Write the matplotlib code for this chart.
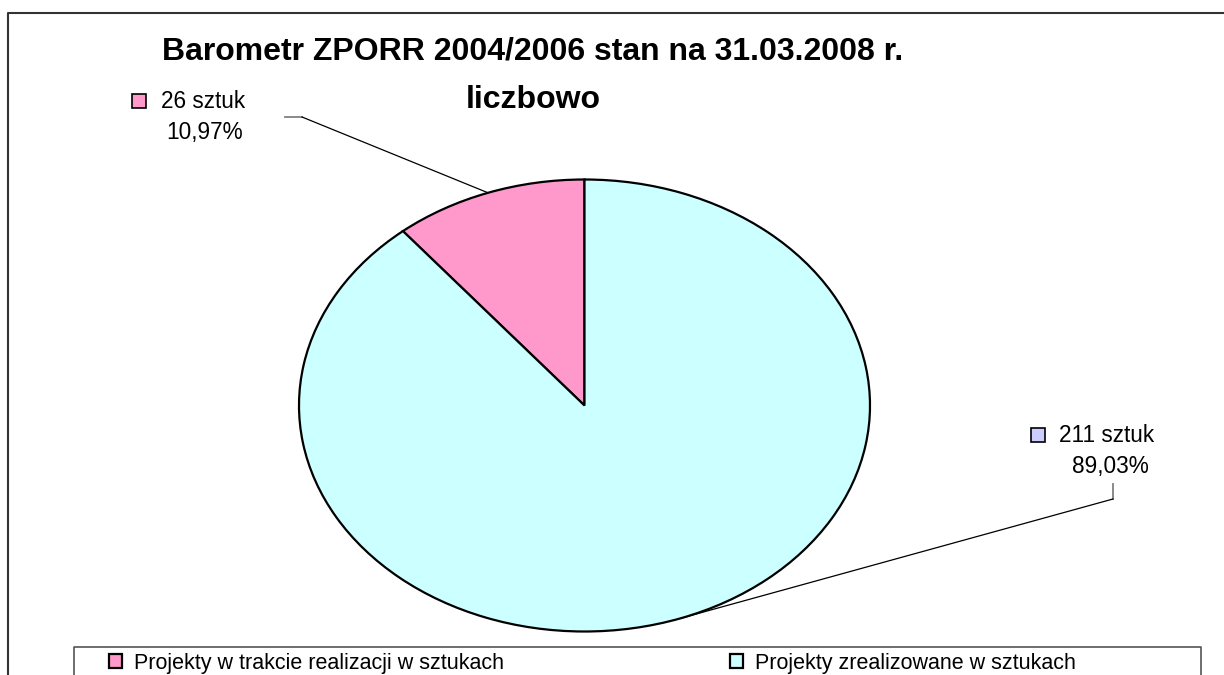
import matplotlib
matplotlib.use("Agg")
import matplotlib.pyplot as plt
from matplotlib.patches import Rectangle
import numpy as np

plt.rcParams['font.family'] = ['Liberation Sans', 'DejaVu Sans']

# data
categories = ["Projekty w trakcie realizacji w sztukach", "Projekty zrealizowane w sztukach"]
counts = [26, 211]
colors = ["#FF99CC", "#CCFFFF"]
label_marker_colors = ["#FF99CC", "#CCCCFF"]
title_lines = ["Barometr ZPORR 2004/2006 stan na 31.03.2008 r.", "liczbowo"]

W, H = 1224, 675
fig = plt.figure(figsize=(W / 100, H / 100), dpi=100)

# overlay in pixel coords (y down) for frame, labels, leaders
ov = fig.add_axes([0, 0, 1, 1], zorder=0)
ov.set_xlim(0, W)
ov.set_ylim(H, 0)
ov.axis("off")

# pie as an ellipse
ax = fig.add_axes([299 / W, (H - 631.5) / H, 571 / W, 452 / H], zorder=1)
wedges, _ = ax.pie(counts, colors=colors, startangle=90, counterclock=True,
                   wedgeprops=dict(edgecolor="black", linewidth=1.6))
for w in wedges:
    w.set_clip_on(False)
ax.set_aspect("auto")
ax.set_xlim(-1, 1)
ax.set_ylim(-1, 1)
ax.axis("off")

# outer chart frame (cut by image edges)
ov.plot([8, 8, W], [H, 13, 13], color="#333333", lw=1.5, clip_on=False)
# legend frame
ov.plot([74, 74, 1201, 1201], [H, 647, 647, H], color="#555555", lw=1.2, clip_on=False)

# title, two lines
for ty, line in zip([52, 100], title_lines):
    ov.text(533, ty, line, ha="center", va="center", fontsize=23, fontweight="bold")

total = sum(counts)
pct = [f"{c / total * 100:.2f}%".replace(".", ",") for c in counts]


def pie_point(wedge):
    mid = np.deg2rad((wedge.theta1 + wedge.theta2) / 2)
    disp = ax.transData.transform((np.cos(mid), np.sin(mid)))
    return ov.transData.inverted().transform(disp)


# data labels: marker x, text x/y, pct center x/y, leader start pts
label_pos = [
    dict(mx=132, tx=161, ty=101, px=205, py=133, lead=[(285, 117), (302, 117)]),
    dict(mx=1031, tx=1059, ty=435, px=1110, py=467, lead=[(1113, 484), (1113, 499)]),
]
for i, lp in enumerate(label_pos):
    ov.add_patch(Rectangle((lp["mx"], lp["ty"] - 7), 14, 14, facecolor=label_marker_colors[i],
                           edgecolor="black", lw=1.2))
    ov.text(lp["tx"], lp["ty"], f"{counts[i]} sztuk", fontsize=16.3, va="center", ha="left")
    ov.text(lp["px"], lp["py"], pct[i], fontsize=16.3, va="center", ha="center")
    (x0, y0), (x1, y1) = lp["lead"]
    ov.plot([x0, x1], [y0, y1], color="#808080", lw=1.3)
    ex, ey = pie_point(wedges[i])
    ov.plot([x1, ex], [y1, ey], color="black", lw=0.9)

# legend (frameless, box drawn above)
fig.legend(wedges, categories, ncol=2, loc="center left",
           bbox_to_anchor=(109 / W, 1 - 663 / H), frameon=False, fontsize=15.5,
           handlelength=0.6, handleheight=0.6, handletextpad=0.55,
           columnspacing=10.5, borderpad=0, borderaxespad=0)

fig.savefig("out.png", dpi=100)
